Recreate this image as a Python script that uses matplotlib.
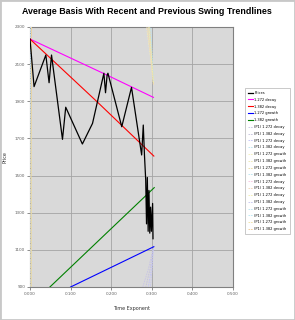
import matplotlib
matplotlib.use("Agg")
import matplotlib.pyplot as plt
from matplotlib.patches import Rectangle

# ---------------- data ----------------
price_x = [0.000, 0.010, 0.039, 0.047, 0.053, 0.080, 0.088, 0.129, 0.154, 0.182,
           0.186, 0.190, 0.192, 0.226, 0.250, 0.275, 0.279, 0.282, 0.285, 0.287,
           0.289, 0.291, 0.293, 0.295, 0.297, 0.299, 0.302, 0.303]
price_y = [2235, 1979, 2149, 2000, 2149, 1695, 1868, 1670, 1781, 2051,
           1946, 2042, 2051, 1763, 1975, 1611, 1772, 1607, 1476, 1240,
           1490, 1200, 1420, 1190, 1330, 1200, 1350, 1160]

decay1272_x = [0.000, 0.182, 0.304]
decay1272_y = [2235, 2049, 1921]
decay1382_x = [0.000, 0.164, 0.305]
decay1382_y = [2235, 1900, 1605]
growth1272_x = [0.100, 0.305]
growth1272_y = [900, 1117]
growth1382_x = [0.049, 0.306]
growth1382_y = [900, 1435]

p1_labels = ["(P1) 1.272 decay", "(P1) 1.382 decay", "(P1) 1.272 decay", "(P1) 1.382 decay",
             "(P1) 1.272 growth", "(P1) 1.382 growth", "(P1) 1.272 growth", "(P1) 1.382 growth",
             "(P1) 1.272 decay", "(P1) 1.382 decay", "(P1) 1.272 decay", "(P1) 1.382 decay",
             "(P1) 1.272 growth", "(P1) 1.382 growth", "(P1) 1.272 growth", "(P1) 1.382 growth"]
p1_x = [
    [0.304, 0.292, 0.275],
    [0.304, 0.296, 0.283],
    [0.304, 0.299, 0.290],
    [0.0005, 0.0005, 0.001],
    [0.304, 0.296, 0.286],
    [0.304, 0.298, 0.290],
    [0.304, 0.300, 0.294],
    [0.304, 0.301, 0.297],
    [0.001, 0.001, 0.002],
    [0.304, 0.297, 0.288],
    [0.304, 0.299, 0.292],
    [0.304, 0.301, 0.296],
    [0.0015, 0.0015, 0.002],
    [0.002, 0.002, 0.003],
    [0.003, 0.003, 0.003],
    [0.002, 0.002, 0.004],
]
p1_y = [
    [1117, 1000, 880],
    [1117, 1000, 880],
    [1117, 1000, 880],
    [880, 1600, 2320],
    [1990, 2150, 2320],
    [1995, 2150, 2320],
    [2000, 2150, 2320],
    [2005, 2150, 2320],
    [880, 1600, 2320],
    [1990, 2150, 2320],
    [2000, 2150, 2320],
    [1117, 1000, 880],
    [880, 1600, 2320],
    [880, 1600, 2320],
    [880, 1600, 2320],
    [880, 1600, 2320],
]
p1_colors = ["#c8c4e4", "#c4c0dc", "#c0c0f8", "#b8e4f0",
             "#f4f0b8", "#ece6b0", "#e8dca0", "#b8e4f0",
             "#f8c4e0", "#f0d4b4", "#f0eeb0", "#c4c4f0",
             "#b8e4f0", "#b8e8f4", "#f0e0a0", "#f0c890"]

x_ticks = [0.0, 0.1, 0.2, 0.3, 0.4, 0.5]
y_ticks = [900, 1100, 1300, 1500, 1700, 1900, 2100, 2300]

# ---------------- figure ----------------
fig = plt.figure(figsize=(2.95, 3.2), dpi=100)
fig.patch.set_facecolor("white")
fig.patches.append(Rectangle((0, 0), 1, 1, transform=fig.transFigure, fill=False,
                             edgecolor="#c8c8c8", linewidth=2.0))

ax = fig.add_axes([30 / 295, 1 - 287 / 320, 203 / 295, 260 / 320])
ax.set_facecolor("#d9d9d9")
ax.set_xlim(0, 0.5)
ax.set_ylim(900, 2300)
ax.set_xticks(x_ticks)
ax.set_yticks(y_ticks)
ax.set_xticklabels([f"{v:.3f}" for v in x_ticks])
ax.set_yticklabels([str(v) for v in y_ticks])
ax.grid(True, color="#a4a4a4", linewidth=0.6)
ax.set_axisbelow(True)
for s in ax.spines.values():
    s.set_color("#808080")
    s.set_linewidth(0.8)
ax.tick_params(labelsize=3, colors="#606060", length=2, width=0.5, pad=1.5)

handles = []
h, = ax.plot(price_x, price_y, color="black", lw=0.9, label="Prices", zorder=5)
handles.append(h)
h, = ax.plot(decay1272_x, decay1272_y, color="#ff00ff", lw=0.8, label="1.272 decay", zorder=4)
handles.append(h)
h, = ax.plot(decay1382_x, decay1382_y, color="#ff0000", lw=0.8, label="1.382 decay", zorder=4)
handles.append(h)
h, = ax.plot(growth1272_x, growth1272_y, color="#0000ff", lw=0.8, label="1.272 growth", zorder=4)
handles.append(h)
h, = ax.plot(growth1382_x, growth1382_y, color="#008000", lw=0.8, label="1.382 growth", zorder=4)
handles.append(h)
for lab, xs, ys, c in zip(p1_labels, p1_x, p1_y, p1_colors):
    h, = ax.plot(xs, ys, color=c, lw=0.6, ls=(0, (2, 1)), label=lab, zorder=3)
    handles.append(h)

ax.set_xlabel("Time Exponent", fontsize=3.5, color="#303030", labelpad=7)
ax.set_ylabel("Price", fontsize=3.5, color="#303030", labelpad=5)

fig.text(147 / 295, 1 - 12 / 320, "Average Basis With Recent and Previous Swing Trendlines",
         ha="center", va="center", fontsize=6.4, fontweight="bold", family="Liberation Sans")

leg = fig.legend(handles=handles, loc="upper left", bbox_to_anchor=(245 / 295, 1 - 88 / 320),
                 fontsize=2.6, frameon=True, fancybox=False, edgecolor="#a0a0a0",
                 handlelength=1.3, labelspacing=0.78, borderpad=0.8, handletextpad=0.5,
                 borderaxespad=0)
leg.get_frame().set_linewidth(0.5)

fig.savefig("out.png", dpi=100)
